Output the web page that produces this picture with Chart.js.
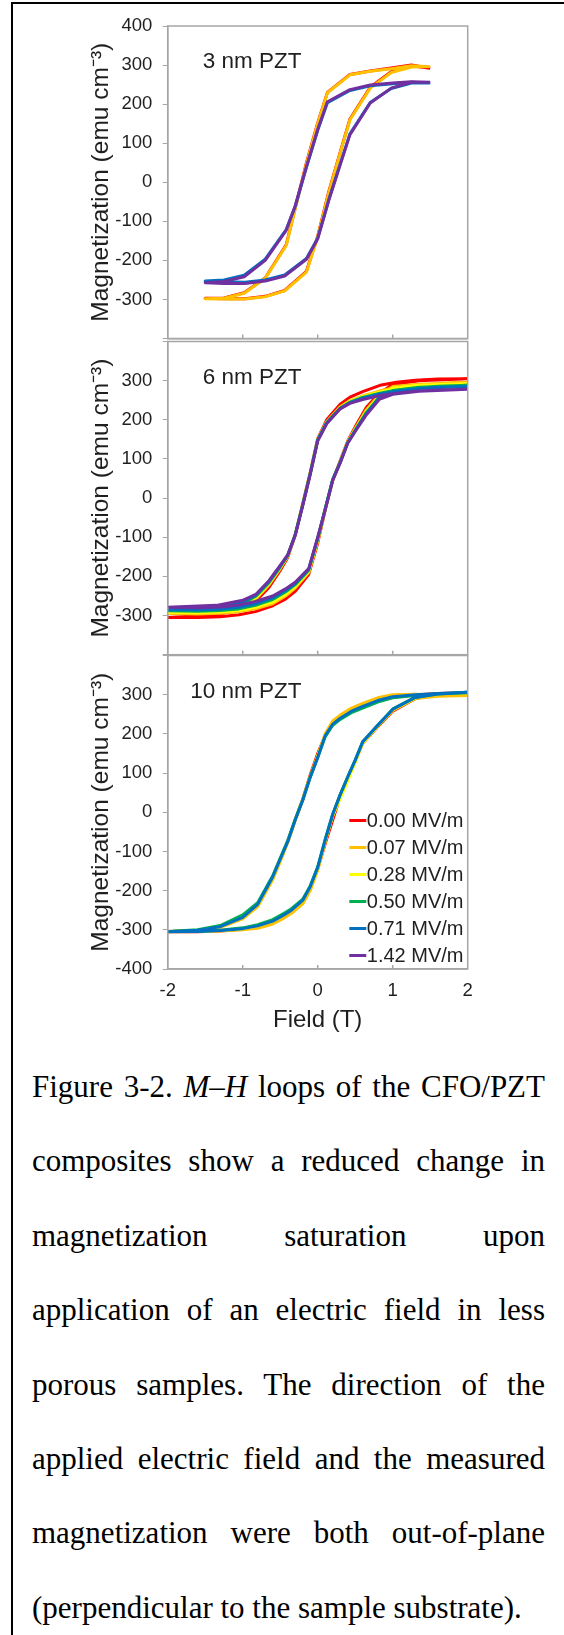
<!DOCTYPE html>
<html>
<head>
<meta charset="utf-8">
<script src="https://cdn.jsdelivr.net/npm/chart.js@4.4.1/dist/chart.umd.min.js"></script>
<style>
body { margin:0; width:564px; height:1635px; position:relative; background:#fff; overflow:hidden; }
#frame { position:absolute; left:11px; top:2px; right:0; bottom:0; border-top:2.5px solid #000; border-left:2px solid #000; }
canvas { position:absolute; left:0; }
#caption { position:absolute; left:32px; top:1050px; width:513px; font-family:"Liberation Serif","Times New Roman",serif; font-size:31px; line-height:74.4px; color:#000; }
#caption div { text-align:justify; text-align-last:justify; white-space:nowrap; }
#caption div.last { text-align-last:left; }
</style>
</head>
<body>
<div id="frame"></div>
<canvas id="p1" width="564" height="360" style="top:0px"></canvas>
<canvas id="p2" width="564" height="360" style="top:320px"></canvas>
<canvas id="p3" width="564" height="404" style="top:634px"></canvas>
<div id="caption">
<div>Figure 3-2. <i>M</i>–<i>H</i> loops of the CFO/PZT</div>
<div>composites show a reduced change in</div>
<div>magnetization saturation upon</div>
<div>application of an electric field in less</div>
<div>porous samples. The direction of the</div>
<div>applied electric field and the measured</div>
<div>magnetization were both out-of-plane</div>
<div class="last">(perpendicular to the sample substrate).</div>
</div>
<script>
// DATA (field in T, magnetization in emu cm^-3), each loop: descending branch then ascending branch

const fieldLabels = ["0.00 MV/m", "0.07 MV/m", "0.28 MV/m", "0.50 MV/m", "0.71 MV/m", "1.42 MV/m"];
const panelNames = ["3 nm PZT", "6 nm PZT", "10 nm PZT"];

// 3 nm PZT
const field3 = [1.5, 1.25, 1.0, 0.7, 0.43, 0.13, 0.0, -0.15, -0.3, -0.42, -0.7, -0.98, -1.25, -1.5,
  -1.25, -0.97, -0.7, -0.44, -0.15, 0.0, 0.15, 0.3, 0.43, 0.7, 0.98, 1.25, 1.5];
const m3_000 = [292, 300, 293, 285, 276, 230, 152, 50, -66, -160, -245, -283, -296, -297,
  -298, -298, -292, -277, -228, -138, -22, 77, 162, 243, 283, 298, 292];
const m3_007 = [296, 298, 291, 284, 275, 229, 150, 47, -68, -162, -246, -284, -297, -298,
  -299, -299, -293, -278, -230, -140, -25, 75, 160, 241, 281, 295, 296];
const m3_071 = [254, 256, 252, 247, 235, 204, 133, 38, -62, -121, -197, -238, -250, -253,
  -255, -256, -250, -237, -195, -143, -43, 47, 124, 204, 240, 254, 254];
const m3_142 = [256, 257, 254, 249, 237, 206, 135, 40, -60, -123, -200, -242, -254, -257,
  -259, -259, -253, -240, -197, -145, -45, 45, 122, 203, 241, 256, 256];

// 6 nm PZT
const field6 = [2.0, 1.6, 1.3, 1.05, 0.83, 0.6, 0.43, 0.3, 0.12, 0.0, -0.1, -0.2, -0.3, -0.4, -0.5, -0.65, -0.82, -1.0, -1.35, -2.0,
  -1.6, -1.3, -1.05, -0.83, -0.6, -0.43, -0.3, -0.12, 0.0, 0.1, 0.2, 0.3, 0.4, 0.5, 0.65, 0.82, 1.0, 1.35, 2.0];
const m6_000 = [305, 304, 301, 296, 288, 272, 258, 240, 200, 152, 65, -15, -95, -152, -185, -228, -262, -282, -298, -305,
  -305, -303, -298, -290, -275, -258, -238, -195, -115, -30, 45, 95, 146, 182, 232, 268, 290, 300, 305];
const m6_007 = [295, 293, 289, 283, 274, 261, 249, 233, 195, 150, 64, -16, -93, -149, -180, -222, -257, -276, -292, -295,
  -296, -294, -290, -283, -270, -250, -230, -190, -110, -29, 46, 93, 144, 178, 226, 264, 285, 291, 295];
const m6_028 = [292, 290, 286, 280, 271, 259, 247, 231, 194, 150, 64, -16, -93, -148, -178, -219, -254, -273, -289, -292,
  -293, -291, -287, -279, -265, -246, -226, -187, -107, -28, 47, 92, 143, 176, 222, 261, 281, 288, 292];
const m6_050 = [288, 286, 282, 276, 268, 257, 245, 230, 193, 149, 63, -17, -93, -147, -176, -216, -250, -269, -284, -288,
  -289, -287, -283, -274, -259, -240, -221, -184, -104, -27, 48, 92, 142, 174, 219, 258, 275, 283, 288];
const m6_071 = [285, 283, 279, 273, 266, 255, 244, 229, 192, 148, 62, -18, -94, -146, -174, -213, -247, -265, -280, -285,
  -286, -284, -279, -270, -255, -236, -218, -182, -102, -28, 47, 91, 141, 172, 216, 255, 271, 280, 285];
const m6_142 = [278, 276, 273, 268, 262, 252, 242, 228, 190, 146, 60, -20, -95, -145, -172, -211, -245, -261, -274, -279,
  -280, -278, -273, -264, -250, -232, -215, -180, -100, -30, 45, 90, 140, 170, 213, 252, 265, 273, 278];

// 10 nm PZT
const field10 = [2.0, 1.6, 1.3, 1.0, 0.8, 0.6, 0.45, 0.3, 0.2, 0.1, 0.0, -0.1, -0.2, -0.3, -0.4, -0.5, -0.6, -0.8, -1.0, -1.3, -1.6, -2.0,
  -1.6, -1.3, -1.0, -0.8, -0.6, -0.45, -0.35, -0.2, -0.1, 0.0, 0.1, 0.2, 0.3, 0.4, 0.5, 0.6, 0.8, 1.0, 1.3, 1.6, 2.0];
const m10_000 = [305, 303, 299, 294, 284, 269, 257, 239, 224, 196, 150, 95, 33, -20, -76, -122, -168, -237, -268, -292, -301, -305,
  -305, -303, -298, -291, -279, -263, -251, -226, -192, -145, -80, -20, 40, 86, 130, 176, 218, 258, 290, 301, 305];
const m10_007 = [298, 300, 301, 300, 292, 278, 266, 248, 233, 200, 145, 92, 32, -20, -77, -126, -172, -241, -272, -294, -301, -304,
  -304, -303, -300, -296, -285, -270, -258, -234, -200, -148, -75, -8, 44, 90, 132, 178, 220, 260, 290, 296, 298];
const m10_028 = [305, 302, 299, 294, 284, 269, 257, 239, 224, 195, 142, 90, 31, -20, -74, -120, -166, -235, -267, -291, -301, -305,
  -304, -302, -297, -290, -278, -262, -250, -225, -190, -142, -73, -10, 35, 80, 128, 177, 220, 262, 292, 302, 305];
const m10_050 = [305, 302, 298, 292, 281, 266, 254, 237, 222, 193, 140, 90, 32, -18, -72, -117, -162, -231, -262, -289, -300, -304,
  -304, -301, -295, -287, -274, -258, -246, -222, -188, -140, -70, -5, 45, 90, 133, 180, 222, 263, 293, 302, 306];
const m10_071 = [306, 303, 300, 295, 285, 270, 258, 240, 225, 195, 140, 89, 30, -20, -75, -120, -165, -235, -268, -292, -301, -305,
  -304, -302, -297, -290, -278, -262, -250, -225, -190, -140, -70, -5, 45, 90, 133, 180, 222, 263, 293, 302, 306];

// STYLE
const lineColors = ["#ff0000", "#ffc000", "#ffff00", "#00b050", "#0070c0", "#7030a0"];
const axisGray = "#a6a6a6";
const textColor = "#1f1f1f";

Chart.defaults.font.family = "'Liberation Sans', Arial, sans-serif";
Chart.defaults.color = textColor;

function toPoints(xs, ys) {
  return xs.map((x, i) => ({x: x, y: ys[i]}));
}

// panel frame, inward x ticks, panel name, optional legend
const panelDecor = {
  id: "panelDecor",
  afterDraw(chart, args, opts) {
    const {ctx, chartArea: a, scales} = chart;
    ctx.save();
    ctx.strokeStyle = axisGray;
    ctx.lineWidth = 1.5;
    ctx.strokeRect(a.left, a.top, a.right - a.left, a.bottom - a.top);
    [-1, 0, 1].forEach(v => {
      const px = scales.x.getPixelForValue(v);
      ctx.beginPath();
      ctx.moveTo(px, a.bottom);
      ctx.lineTo(px, a.bottom - 4);
      ctx.stroke();
    });
    ctx.fillStyle = textColor;
    ctx.font = "22.5px 'Liberation Sans', Arial, sans-serif";
    ctx.textAlign = "right";
    ctx.textBaseline = "alphabetic";
    ctx.fillText(opts.name, 301.5, a.top + 42);
    if (opts.legend) {
      ctx.font = "20px 'Liberation Sans', Arial, sans-serif";
      ctx.textAlign = "left";
      ctx.textBaseline = "middle";
      fieldLabels.forEach((lab, i) => {
        const y = a.top + 165 + i * 27;
        const x0 = a.right - 118.4;
        ctx.strokeStyle = lineColors[i];
        ctx.lineWidth = 3;
        ctx.beginPath();
        ctx.moveTo(x0, y);
        ctx.lineTo(x0 + 17, y);
        ctx.stroke();
        ctx.fillText(lab, x0 + 17.5, y + 1);
      });
    }
    ctx.restore();
  }
};

function makePanel(id, field, series, name, o) {
  const n = series.length;
  new Chart(document.getElementById(id), {
    type: "scatter",
    data: {
      datasets: series.map((s, k) => ({
        label: fieldLabels[s.idx],
        data: toPoints(field, s.m),
        showLine: true,
        borderColor: lineColors[s.idx],
        backgroundColor: lineColors[s.idx],
        borderWidth: 3,
        pointRadius: 0,
        tension: 0,
        borderJoinStyle: "round",
        order: n - 1 - k
      }))
    },
    options: {
      responsive: false,
      devicePixelRatio: 1,
      animation: false,
      events: [],
      layout: {padding: {left: 0, right: 96.3, top: o.padTop, bottom: 0}},
      plugins: {
        legend: {display: false},
        tooltip: {enabled: false},
        panelDecor: {name: name, legend: o.legend}
      },
      scales: {
        x: {
          type: "linear",
          min: -2, max: 2,
          ticks: {display: o.showX, stepSize: 1, font: {size: 18.5}, padding: 11, color: textColor},
          grid: {drawOnChartArea: false, drawTicks: false, color: axisGray},
          border: {display: true, color: axisGray, width: 1.5},
          title: {display: o.showX, text: "Field (T)", font: {size: 24}, color: textColor, padding: {top: 0, bottom: 3.1}},
          afterFit: s => { s.height = o.xHeight; }
        },
        y: {
          min: -400, max: 400,
          ticks: {
            stepSize: 100, font: {size: 18.5}, padding: 10.4, color: textColor,
            callback: v => (o.hide.includes(v) ? "" : v)
          },
          grid: {drawOnChartArea: false, drawTicks: true, tickLength: 5, color: axisGray},
          border: {display: true, color: axisGray, width: 1.5},
          title: {display: true, text: "Magnetization (emu cm⁻³)", font: {size: 24.5}, color: textColor, padding: {top: 86.8, bottom: 0}},
          afterFit: s => { s.width = 167.7; }
        }
      }
    },
    plugins: [panelDecor]
  });
}

makePanel("p1", field3, [
  {idx: 0, m: m3_000}, {idx: 1, m: m3_007}, {idx: 4, m: m3_071}, {idx: 5, m: m3_142}
], panelNames[0], {padTop: 26, xHeight: 19.7, showX: false, hide: [-400], legend: false});

makePanel("p2", field6, [
  {idx: 0, m: m6_000}, {idx: 1, m: m6_007}, {idx: 2, m: m6_028}, {idx: 3, m: m6_050}, {idx: 4, m: m6_071}, {idx: 5, m: m6_142}
], panelNames[1], {padTop: 20.3, xHeight: 25.3, showX: false, hide: [400, -400], legend: false});

makePanel("p3", field10, [
  {idx: 0, m: m10_000}, {idx: 1, m: m10_007}, {idx: 2, m: m10_028}, {idx: 3, m: m10_050}, {idx: 4, m: m10_071}
], panelNames[2], {padTop: 20.7, xHeight: 69, showX: true, hide: [400], legend: true});
</script>
</body>
</html>
